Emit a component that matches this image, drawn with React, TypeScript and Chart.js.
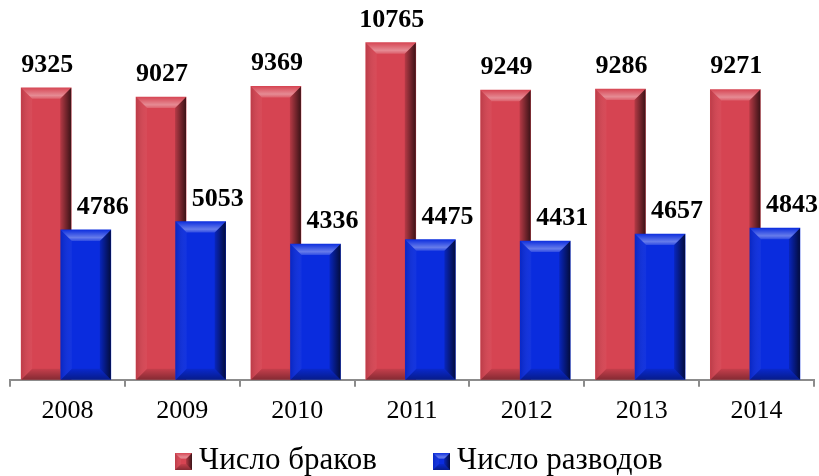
import React, { useEffect, useRef } from "react";
import { Chart, registerables } from "chart.js";

Chart.register(...registerables);

const years = ["2008", "2009", "2010", "2011", "2012", "2013", "2014"];
const marriages = [9325, 9027, 9369, 10765, 9249, 9286, 9271];
const divorces = [4786, 5053, 4336, 4475, 4431, 4657, 4843];
const seriesNames = ["Число браков", "Число разводов"];
const seriesColors = ["#D64452", "#0A2CDE"];

const SERIF = '"Liberation Serif", "Times New Roman", serif';

function drawBevel(ctx: CanvasRenderingContext2D, l: number, t: number, r: number, b: number, bv: number) {
  const h = b - t;
  const w = r - l;
  const e = Math.max(0, Math.min(bv, w / 2, h / 2));
  ctx.save();
  // left
  const gl = ctx.createLinearGradient(l, 0, l + e, 0);
  gl.addColorStop(0, "rgba(0,0,0,0.12)");
  gl.addColorStop(1, "rgba(255,255,255,0.04)");
  ctx.beginPath();
  ctx.moveTo(l, t); ctx.lineTo(l + e, t + e); ctx.lineTo(l + e, b - e); ctx.lineTo(l, b); ctx.closePath();
  ctx.fillStyle = gl;
  ctx.fill();
  // right
  const gr = ctx.createLinearGradient(r - e, 0, r, 0);
  gr.addColorStop(0, "rgba(0,0,0,0.15)");
  gr.addColorStop(1, "rgba(0,0,0,0.72)");
  ctx.beginPath();
  ctx.moveTo(r, t); ctx.lineTo(r, b); ctx.lineTo(r - e, b - e); ctx.lineTo(r - e, t + e); ctx.closePath();
  ctx.fillStyle = gr;
  ctx.fill();
  // bottom
  const gb = ctx.createLinearGradient(0, b - e, 0, b);
  gb.addColorStop(0, "rgba(0,0,0,0.08)");
  gb.addColorStop(1, "rgba(0,0,0,0.38)");
  ctx.beginPath();
  ctx.moveTo(l, b); ctx.lineTo(r, b); ctx.lineTo(r - e, b - e); ctx.lineTo(l + e, b - e); ctx.closePath();
  ctx.fillStyle = gb;
  ctx.fill();
  // top
  const gt = ctx.createLinearGradient(0, t, 0, t + e);
  gt.addColorStop(0, "rgba(255,255,255,0.02)");
  gt.addColorStop(0.7, "rgba(255,255,255,0.38)");
  gt.addColorStop(1, "rgba(255,255,255,0.15)");
  ctx.beginPath();
  ctx.moveTo(l, t); ctx.lineTo(r, t); ctx.lineTo(r - e, t + e); ctx.lineTo(l + e, t + e); ctx.closePath();
  ctx.fillStyle = gt;
  ctx.fill();
  ctx.restore();
}

const bevelPlugin = {
  id: "bevel",
  afterDatasetDraw(chart: any, args: any) {
    const ctx = chart.ctx;
    const meta = args.meta;
    ctx.save();
    meta.data.forEach((el: any) => {
      const p = el.getProps(["x", "y", "width", "base"], true);
      drawBevel(ctx, p.x - p.width / 2, p.y, p.x + p.width / 2, p.base, 11);
    });
    ctx.restore();
  },
};

const labelPlugin = {
  id: "valueLabels",
  afterDatasetsDraw(chart: any) {
    const ctx = chart.ctx;
    ctx.save();
    ctx.font = `bold 26px ${SERIF}`;
    ctx.fillStyle = "#000";
    ctx.textAlign = "center";
    ctx.textBaseline = "alphabetic";
    chart.data.datasets.forEach((ds: any, i: number) => {
      const meta = chart.getDatasetMeta(i);
      meta.data.forEach((el: any, j: number) => {
        const p = el.getProps(["x", "y"], true);
        ctx.fillText(String(ds.values[j]), p.x + ds.labelShift, p.y - 16);
      });
    });
    ctx.restore();
  },
};

function Marker({ color }: { color: string }) {
  const ref = useRef<HTMLCanvasElement | null>(null);
  useEffect(() => {
    const c = ref.current;
    if (!c) return;
    const ctx = c.getContext("2d")!;
    ctx.clearRect(0, 0, 17, 17);
    ctx.fillStyle = color;
    ctx.fillRect(0, 0, 17, 17);
    drawBevel(ctx, 0, 0, 17, 17, 6);
  }, [color]);
  return <canvas ref={ref} width={17} height={17} style={{ position: "absolute", left: 0, top: 10, width: 17, height: 17 }} />;
}

export default function App() {
  const ref = useRef<HTMLCanvasElement | null>(null);

  useEffect(() => {
    if (!ref.current) return;
    const chart = new Chart(ref.current, {
      type: "bar",
      data: {
        labels: years,
        datasets: [
          {
            label: seriesNames[1],
            values: divorces,
            labelShift: 17,
            data: divorces.map((v, i) => ({ x: i + 0.16, y: v })),
            backgroundColor: seriesColors[1],
            borderWidth: 0,
            xAxisID: "xb",
            grouped: false,
            barThickness: 50,
          } as any,
          {
            label: seriesNames[0],
            values: marriages,
            labelShift: 1,
            data: marriages.map((v, i) => ({ x: i - 0.185, y: v })),
            backgroundColor: seriesColors[0],
            borderWidth: 0,
            xAxisID: "xb",
            grouped: false,
            barThickness: 50,
          } as any,
        ],
      },
      options: {
        responsive: false,
        animation: false,
        devicePixelRatio: 1,
        layout: { padding: { left: 10, right: 5, top: 4, bottom: 40 } },
        scales: {
          x: {
            type: "category",
            offset: true,
            grid: {
              display: true,
              offset: true,
              drawOnChartArea: false,
              drawTicks: true,
              tickLength: 7,
              color: "#8c8c8c",
              lineWidth: 2,
            },
            border: { display: true, color: "#8c8c8c", width: 2 },
            ticks: {
              color: "#000",
              font: { family: SERIF, size: 26 },
              padding: 9,
              maxRotation: 0,
            },
          },
          xb: {
            type: "linear",
            display: false,
            offset: false,
            grid: { offset: false },
            min: -0.5,
            max: 6.5,
          },
          y: {
            display: false,
            min: 0,
            max: 12000,
          },
        },
        plugins: {
          tooltip: { enabled: false },
          legend: { display: false },
        },
      },
      plugins: [bevelPlugin, labelPlugin],
    });
    return () => chart.destroy();
  }, []);

  const itemStyle: React.CSSProperties = {
    position: "absolute",
    top: 443,
    height: 40,
    fontFamily: SERIF,
    fontSize: 31,
    lineHeight: "31px",
    color: "#000",
    whiteSpace: "nowrap",
  };

  return (
    <div style={{ position: "fixed", left: 0, top: 0, width: 819, height: 476, background: "#fff", overflow: "hidden" }}>
      <canvas ref={ref} width={819} height={476} style={{ width: 819, height: 476, display: "block" }} />
      <div style={{ ...itemStyle, left: 175 }}>
        <Marker color={seriesColors[0]} />
        <span style={{ position: "absolute", left: 24, top: 0 }}>{seriesNames[0]}</span>
      </div>
      <div style={{ ...itemStyle, left: 433 }}>
        <Marker color={seriesColors[1]} />
        <span style={{ position: "absolute", left: 24, top: 0 }}>{seriesNames[1]}</span>
      </div>
    </div>
  );
}
